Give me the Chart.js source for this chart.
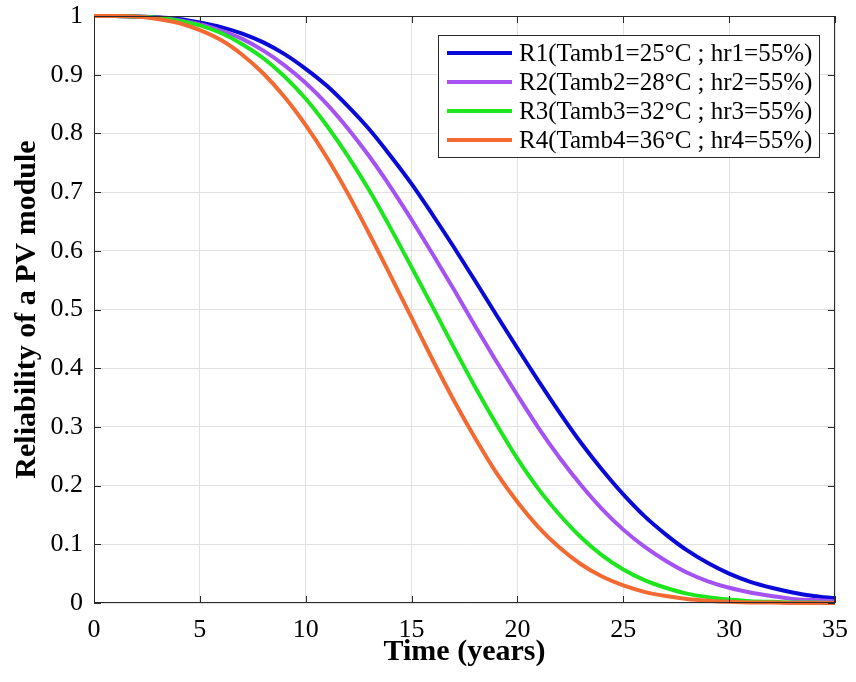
<!DOCTYPE html>
<html>
<head>
<meta charset="utf-8">
<script src="https://cdn.jsdelivr.net/npm/chart.js@4.4.0/dist/chart.umd.min.js"></script>
<style>
  html, body { margin: 0; padding: 0; background: #fff; }
  #wrap { width: 856px; height: 682px; }
</style>
</head>
<body>
<div id="wrap"><canvas id="c" width="856" height="682"></canvas></div>
<script>
// ---- data ----
const years = [0,1,2,3,4,5,6,7,8,9,10,11,12,13,14,15,16,17,18,19,20,21,22,23,24,25,26,27,28,29,30,31,32,33,34,35];
const r1 = [1.000,1.000,0.999,0.998,0.995,0.989,0.981,0.970,0.955,0.935,0.910,0.881,0.846,0.807,0.762,0.714,0.661,0.606,0.549,0.491,0.434,0.378,0.324,0.273,0.227,0.185,0.148,0.117,0.090,0.068,0.050,0.036,0.026,0.018,0.012,0.008];
const r2 = [1.000,1.000,0.999,0.997,0.993,0.986,0.975,0.961,0.941,0.916,0.886,0.850,0.808,0.761,0.709,0.653,0.594,0.534,0.472,0.412,0.354,0.298,0.247,0.201,0.160,0.125,0.096,0.072,0.052,0.037,0.026,0.018,0.012,0.007,0.005,0.003];
const r3 = [1.000,1.000,0.999,0.997,0.992,0.984,0.971,0.952,0.928,0.897,0.859,0.813,0.761,0.703,0.639,0.572,0.504,0.435,0.368,0.305,0.246,0.194,0.150,0.112,0.081,0.057,0.039,0.026,0.016,0.010,0.006,0.003,0.002,0.001,0.001,0.000];
const r4 = [1.000,1.000,0.999,0.995,0.988,0.976,0.959,0.934,0.902,0.862,0.814,0.759,0.697,0.629,0.558,0.486,0.414,0.345,0.281,0.222,0.172,0.129,0.094,0.066,0.045,0.030,0.019,0.012,0.007,0.004,0.002,0.001,0.001,0.000,0.000,0.000];
const seriesNames = [
  'R1(Tamb1=25°C ; hr1=55%)',
  'R2(Tamb2=28°C ; hr2=55%)',
  'R3(Tamb3=32°C ; hr3=55%)',
  'R4(Tamb4=36°C ; hr4=55%)'
];
const xTickValues = [0,5,10,15,20,25,30,35];
const yTickLabels = ['0','0.1','0.2','0.3','0.4','0.5','0.6','0.7','0.8','0.9','1'];
const xTitle = 'Time (years)';
const yTitle = 'Reliability of a PV module';

// ---- styling ----
const colors = ['#0a0ad8', '#a452f2', '#1ee61e', '#f26a32'];
const serif = "'Liberation Serif', 'Times New Roman', serif";

const toPts = arr => years.map((x, i) => ({x: x, y: arr[i]}));
const allSeries = [r1, r2, r3, r4];

const datasets = allSeries.map((s, i) => ({
  label: seriesNames[i],
  data: toPts(s),
  borderColor: colors[i],
  backgroundColor: colors[i],
  borderWidth: 4,
  pointRadius: 0,
  fill: false,
  cubicInterpolationMode: 'monotone',
  clip: 6,
  order: 4 - i
}));

const framePlugin = {
  id: 'frame',
  afterDatasetsDraw(chart) {
    const ctx = chart.ctx;
    const a = chart.chartArea;
    const xs = chart.scales.x, ys = chart.scales.y;
    ctx.save();
    ctx.strokeStyle = '#2a2a2a';
    ctx.lineWidth = 1;
    ctx.strokeRect(a.left + 0.5, a.top + 0.5, a.right - a.left - 1, a.bottom - a.top - 1);
    ctx.beginPath();
    const tl = 7;
    xTickValues.forEach(v => {
      const px = Math.round(xs.getPixelForValue(v)) + 0.5;
      ctx.moveTo(px, a.bottom); ctx.lineTo(px, a.bottom - tl);
      ctx.moveTo(px, a.top); ctx.lineTo(px, a.top + tl);
    });
    yTickLabels.forEach((lbl, i) => {
      const py = Math.round(ys.getPixelForValue(i / 10)) + 0.5;
      ctx.moveTo(a.left, py); ctx.lineTo(a.left + tl, py);
      ctx.moveTo(a.right, py); ctx.lineTo(a.right - tl, py);
    });
    ctx.stroke();
    ctx.restore();
  },
  afterDraw(chart) {
    // legend box (inside plot, top-right)
    const ctx = chart.ctx;
    const bx = 438.5, by = 35.5, bw = 381, bh = 122;
    ctx.save();
    ctx.fillStyle = '#ffffff';
    ctx.fillRect(bx, by, bw, bh);
    ctx.strokeStyle = '#2a2a2a';
    ctx.lineWidth = 1;
    ctx.strokeRect(bx, by, bw, bh);
    ctx.font = "25px " + serif;
    ctx.textBaseline = 'middle';
    ctx.textAlign = 'left';
    chart.data.datasets.forEach((ds, i) => {
      const y = 53 + i * 29;
      ctx.strokeStyle = ds.borderColor;
      ctx.lineWidth = 4;
      ctx.beginPath();
      ctx.moveTo(447, y); ctx.lineTo(512, y);
      ctx.stroke();
      ctx.fillStyle = '#000';
      ctx.fillText(ds.label, 519, y + 1);
    });
    ctx.restore();
  }
};

new Chart(document.getElementById('c'), {
  type: 'line',
  data: { datasets: datasets },
  options: {
    responsive: false,
    animation: false,
    devicePixelRatio: 1,
    layout: { padding: { left: 0, top: 16, right: 21, bottom: 0 } },
    plugins: { legend: { display: false }, tooltip: { enabled: false } },
    scales: {
      x: {
        type: 'linear',
        min: 0, max: 35,
        afterFit(scale) {
          scale.height = 79;
          scale.paddingLeft = 0; scale.paddingRight = 0;
          scale.paddingTop = 0; scale.paddingBottom = 0;
        },
        afterBuildTicks(scale) { scale.ticks = xTickValues.map(v => ({value: v})); },
        ticks: {
          color: '#000',
          padding: 12,
          maxRotation: 0,
          font: { family: serif, size: 26 },
          callback: v => String(v)
        },
        grid: { color: '#e2e2e2', lineWidth: 1, drawTicks: false },
        border: { display: false },
        title: {
          display: true,
          text: xTitle,
          color: '#000',
          font: { family: serif, size: 30, weight: 'bold' },
          padding: { top: 0, bottom: 12 }
        }
      },
      y: {
        type: 'linear',
        min: 0, max: 1,
        afterFit(scale) {
          scale.width = 94;
          scale.paddingTop = 0; scale.paddingBottom = 0;
          scale.paddingLeft = 0; scale.paddingRight = 0;
        },
        afterBuildTicks(scale) { scale.ticks = yTickLabels.map((l, i) => ({value: i / 10})); },
        ticks: {
          color: '#000',
          padding: 11,
          font: { family: serif, size: 26 },
          callback: (v, i) => yTickLabels[i]
        },
        grid: { color: '#e2e2e2', lineWidth: 1, drawTicks: false },
        border: { display: false },
        title: {
          display: true,
          text: yTitle,
          color: '#000',
          font: { family: serif, size: 30, weight: 'bold' },
          padding: { top: 9, bottom: 0 }
        }
      }
    }
  },
  plugins: [framePlugin]
});
</script>
</body>
</html>
